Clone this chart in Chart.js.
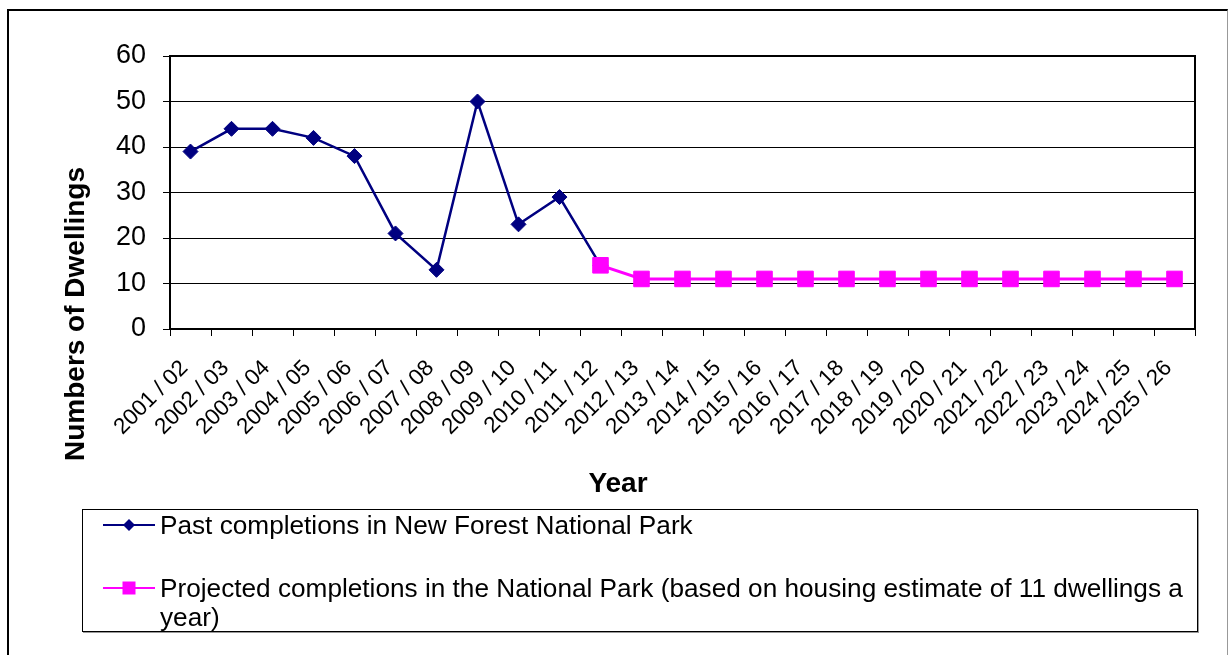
<!DOCTYPE html>
<html lang="en">
<head>
<meta charset="UTF-8">
<title>Housing Completions - New Forest National Park</title>
<script src="https://cdn.jsdelivr.net/npm/chart.js"></script>
<style>
    body {
        margin: 0;
        background: #ffffff;
        font-family: 'Liberation Sans', Arial, sans-serif;
    }
    .frame {
        position: absolute;
        left: 7px;
        top: 9px;
        width: 1218px;
        height: 680px;
        border-left: 2px solid #000;
        border-top: 2px solid #000;
        border-right: 1px solid #999;
    }
    #chart {
        position: absolute;
        left: 0;
        top: 0;
    }
    .legend {
        position: absolute;
        left: 82px;
        top: 509px;
        width: 1116px;
        height: 123px;
        border: 1px solid #000;
        box-shadow: 1px 1px 0 #999;
        background: #fff;
        padding-top: 1px;
        box-sizing: border-box;
    }
    .legend .item {
        display: flex;
        align-items: flex-start;
        margin-left: 20px;
        font-size: 26.2px;
        line-height: 29px;
        color: #000;
    }
    .legend .item + .item {
        margin-top: 34px;
    }
    .legend canvas {
        flex: none;
        margin-right: 5px;
    }
    .legend .text {
        width: 1032px;
    }
</style>
</head>
<body>
<div class="frame"></div>
<canvas id="chart" width="1229" height="655"></canvas>
<div class="legend" id="legend"></div>

<script>
    const years = [
        '2001 / 02', '2002 / 03', '2003 / 04', '2004 / 05', '2005 / 06',
        '2006 / 07', '2007 / 08', '2008 / 09', '2009 / 10', '2010 / 11',
        '2011 / 12', '2012 / 13', '2013 / 14', '2014 / 15', '2015 / 16',
        '2016 / 17', '2017 / 18', '2018 / 19', '2019 / 20', '2020 / 21',
        '2021 / 22', '2022 / 23', '2023 / 24', '2024 / 25', '2025 / 26'
    ];
    // past completions run up to 2011/12, projection starts from that same year
    const pastCompletions = [39, 44, 44, 42, 38, 21, 13, 50, 23, 29, 14,
        null, null, null, null, null, null, null, null, null, null, null, null, null, null];
    const projectedCompletions = [null, null, null, null, null, null, null, null, null, null, 14,
        11, 11, 11, 11, 11, 11, 11, 11, 11, 11, 11, 11, 11, 11];
    const yTicks = [0, 10, 20, 30, 40, 50, 60];

    const FONT = "'Liberation Sans', Arial, sans-serif";

    // black frame round the plot area plus the two axis titles
    const plotFrame = {
        id: 'plotFrame',
        beforeDatasetsDraw(chart) {
            const { ctx, chartArea: a } = chart;
            ctx.save();
            ctx.strokeStyle = '#000';
            ctx.lineWidth = 2;
            ctx.strokeRect(a.left, a.top, a.right - a.left, a.bottom - a.top);
            ctx.restore();
        },
        afterDraw(chart) {
            const ctx = chart.ctx;
            ctx.save();
            ctx.fillStyle = '#000';
            ctx.font = 'bold 28px ' + FONT;
            ctx.textAlign = 'center';
            ctx.textBaseline = 'middle';
            ctx.fillText('Year', 618, 484);
            ctx.translate(76, 314);
            ctx.rotate(-Math.PI / 2);
            ctx.fillText('Numbers of Dwellings', 0, 0);
            ctx.restore();
        }
    };

    const chart = new Chart(document.getElementById('chart'), {
        type: 'line',
        data: {
            labels: years,
            datasets: [{
                label: 'Past completions in New Forest National Park',
                data: pastCompletions,
                borderColor: '#000080',
                backgroundColor: '#000080',
                pointBackgroundColor: '#000080',
                pointBorderColor: '#000080',
                borderWidth: 2.5,
                pointStyle: 'rectRot',
                pointRadius: 7.5,
                pointHoverRadius: 7.5,
                pointBorderWidth: 1,
                tension: 0,
                order: 1
            }, {
                label: 'Projected completions in the National Park (based on housing estimate of 11 dwellings a year)',
                data: projectedCompletions,
                borderColor: '#ff00ff',
                backgroundColor: '#ff00ff',
                pointBackgroundColor: '#ff00ff',
                pointBorderColor: '#ff00ff',
                borderWidth: 3,
                pointStyle: 'rect',
                pointRadius: 11,
                pointHoverRadius: 11,
                pointBorderWidth: 1,
                tension: 0,
                order: 0
            }]
        },
        options: {
            responsive: false,
            animation: false,
            layout: {
                padding: { left: 0, top: 56, right: 34, bottom: 155 }
            },
            plugins: {
                legend: { display: false },
                tooltip: { enabled: false }
            },
            scales: {
                x: {
                    offset: true,
                    grid: {
                        offset: true,
                        drawOnChartArea: false,
                        color: '#000',
                        tickLength: 7
                    },
                    border: { color: '#000', width: 2 },
                    ticks: {
                        color: '#000',
                        font: { family: FONT, size: 22.5 },
                        maxRotation: 45,
                        minRotation: 45,
                        autoSkip: false,
                        padding: 19,
                        labelOffset: -6
                    },
                    afterFit(scale) { scale.height = 171; }
                },
                y: {
                    min: 0,
                    max: 60,
                    afterBuildTicks(scale) {
                        scale.ticks = yTicks.map(v => ({ value: v }));
                    },
                    grid: {
                        color: '#000',
                        lineWidth: 1,
                        tickLength: 7
                    },
                    border: { color: '#000', width: 2 },
                    ticks: {
                        color: '#000',
                        font: { family: FONT, size: 27 },
                        padding: 17
                    },
                    afterFit(scale) { scale.width = 170; }
                }
            }
        },
        plugins: [plotFrame]
    });

    // legend keys: a short line with the series marker in the middle
    function drawKey(ds) {
        const key = document.createElement('canvas');
        key.width = 52;
        key.height = 29;
        const k = key.getContext('2d');
        const cy = 14;
        k.strokeStyle = ds.borderColor;
        k.lineWidth = 2;
        k.beginPath();
        k.moveTo(0, cy);
        k.lineTo(52, cy);
        k.stroke();
        k.fillStyle = ds.pointBackgroundColor;
        k.beginPath();
        if (ds.pointStyle === 'rectRot') {
            const r = 6;
            k.moveTo(26, cy - r);
            k.lineTo(26 + r, cy);
            k.lineTo(26, cy + r);
            k.lineTo(26 - r, cy);
            k.closePath();
        } else {
            const h = 6.5;
            k.rect(26 - h, cy - h, 2 * h, 2 * h);
        }
        k.fill();
        return key;
    }

    const legendBox = document.getElementById('legend');
    chart.data.datasets.forEach(ds => {
        const item = document.createElement('div');
        item.className = 'item';
        item.appendChild(drawKey(ds));
        const text = document.createElement('span');
        text.className = 'text';
        text.textContent = ds.label;
        item.appendChild(text);
        legendBox.appendChild(item);
    });
</script>
</body>
</html>
